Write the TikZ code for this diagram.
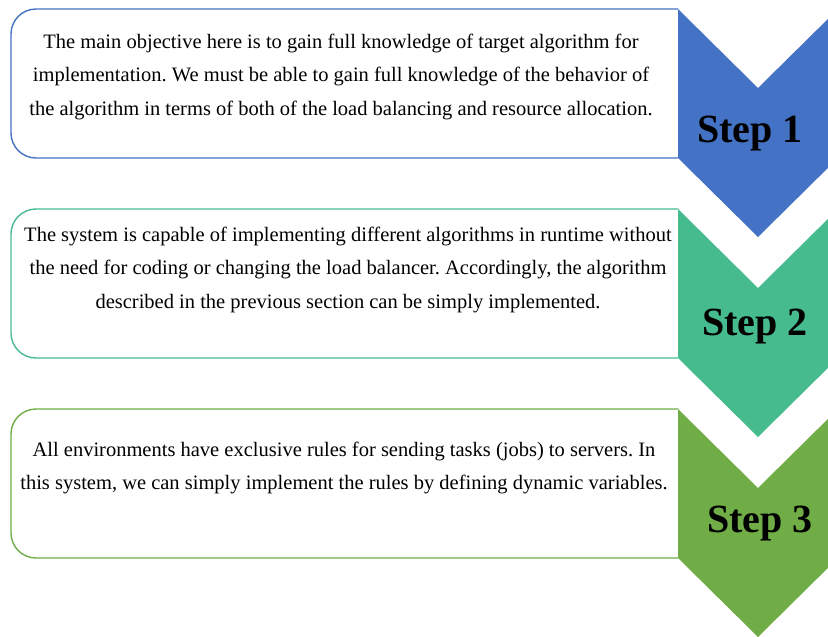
\documentclass[tikz,border=0pt]{standalone}
\usepackage{fontspec}
\setmainfont{Liberation Serif}
\usepackage{xcolor}
\usetikzlibrary{positioning}

\definecolor{stepblue}{HTML}{4472C4}
\definecolor{stepteal}{HTML}{46BC8E}
\definecolor{stepgreen}{HTML}{70AD47}

\frenchspacing

\begin{document}
\begin{tikzpicture}[
    x=1pt, y=-1pt,
    panel/.style={line width=1.4pt, rounded corners=25pt},
    desc/.style={anchor=north, align=center, inner sep=0pt, font=\fontsize{20.5}{33.7}\selectfont},
    steplabel/.style={font=\fontsize{40}{42}\selectfont\bfseries}
]
\useasboundingbox (0,0) rectangle (828,637);
\clip (0,0) rectangle (828,637);

% chevrons on the right
\fill[stepblue] (678,9) -- (758,88) -- (838,9) -- (838,158) -- (758,237) -- (678,158) -- cycle;
\fill[stepteal] (678,209) -- (758,288) -- (838,209) -- (838,358) -- (758,437) -- (678,358) -- cycle;
\fill[stepgreen] (678,409) -- (758,488) -- (838,409) -- (838,558) -- (758,637) -- (678,558) -- cycle;

% text panels, rounded on the left only
\draw[panel, stepblue] (678,9) -- (11,9) -- (11,158) -- (678,158);
\draw[panel, stepteal] (678,209) -- (11,209) -- (11,358) -- (678,358);
\draw[panel, stepgreen] (678,409) -- (11,409) -- (11,558) -- (678,558);

\node[desc] (desc1) at (341,33.5) {The main objective here is to gain full knowledge of target algorithm for\\
implementation. We must be able to gain full knowledge of the behavior of\\
the algorithm in terms of both of the load balancing and resource allocation.};
\node[desc] (desc2) at (348,226.5) {The system is capable of implementing different algorithms in runtime without\\
the need for coding or changing the load balancer. Accordingly, the algorithm\\
described in the previous section can be simply implemented.};
\node[desc] (desc3) at (344,441.5) {All environments have exclusive rules for sending tasks (jobs) to servers. In\\
this system, we can simply implement the rules by defining dynamic variables.};

\node[steplabel] (step1) at (750,134) {Step 1};
\node[steplabel] (step2) at (755,327) {Step 2};
\node[steplabel] (step3) at (760,524) {Step 3};
\end{tikzpicture}
\end{document}
